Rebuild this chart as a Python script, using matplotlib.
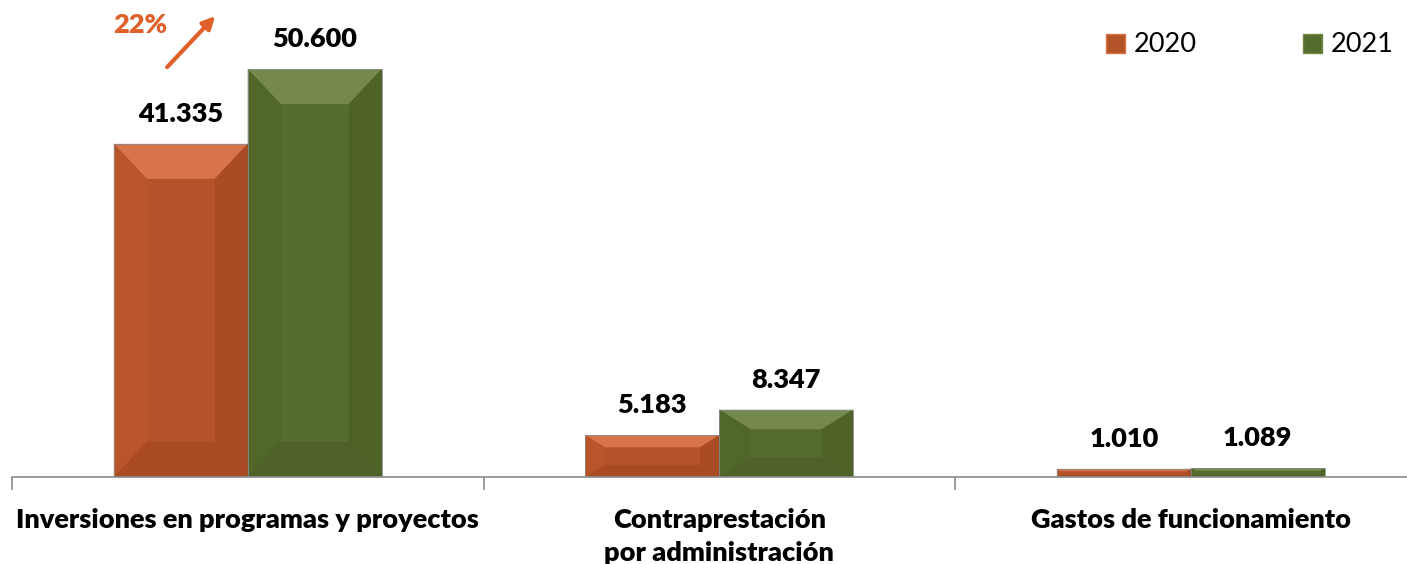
import matplotlib.pyplot as plt
from matplotlib.patches import Polygon, Patch
import numpy as np

categories = ['Inversiones en programas y proyectos',
              'Contraprestación\npor administración',
              'Gastos de funcionamiento']
years = ['2020', '2021']
vals_2020 = [41335, 5183, 1010]
vals_2021 = [50600, 8347, 1089]
labels_2020 = ['41.335', '5.183', '1.010']
labels_2021 = ['50.600', '8.347', '1.089']
growth_label = '22%'

# colours: base, top bevel, left, right, bottom
orange = ['#B4532A', '#D8744A', '#B85629', '#A94C25', '#A84A24']
green = ['#566C2D', '#75894A', '#51672A', '#4F6329', '#4D6128']

plt.rcParams['font.family'] = ['Lato', 'DejaVu Sans']
FS = 19.5

W, H = 1407, 564
fig = plt.figure(figsize=(W / 100, H / 100), dpi=100)
ax_w_px = 1414.5
ax_h_px = 472
ax = fig.add_axes([12 / W, 87 / H, ax_w_px / W, ax_h_px / H])
ax.set_xlim(-0.5, 2.5)
ax.set_ylim(0, 58560)

px_x = 3 / ax_w_px
px_y = 58560 / ax_h_px


def bevel_bar(left, width, h, c):
    right = left + width
    h_px = h / px_y
    by_px = min(35, 0.29 * h_px)
    bx_px = min(33, 1.6 * by_px)
    bx, by = bx_px * px_x, by_px * px_y
    polys = [
        ([(left, 0), (right, 0), (right, h), (left, h)], c[0]),
        ([(left, h), (right, h), (right - bx, h - by), (left + bx, h - by)], c[1]),
        ([(left, h), (left + bx, h - by), (left + bx, by), (left, 0)], c[2]),
        ([(right, h), (right - bx, h - by), (right - bx, by), (right, 0)], c[3]),
        ([(left, 0), (left + bx, by), (right - bx, by), (right, 0)], c[4]),
    ]
    for pts, col in polys:
        ax.add_patch(Polygon(pts, closed=True, facecolor=col, edgecolor='none'))
    ax.add_patch(Polygon([(left, 0), (right, 0), (right, h), (left, h)], closed=True,
                         facecolor='none', edgecolor='#8a8a8a', linewidth=0.6))


bw = 0.284
x = np.arange(len(categories))
for i in range(len(categories)):
    bevel_bar(x[i] - bw, bw, vals_2020[i], orange)
    bevel_bar(x[i], bw, vals_2021[i], green)
    ax.annotate(labels_2020[i], (x[i] - bw / 2, vals_2020[i]), xytext=(0, 30),
                textcoords='offset pixels', ha='center', va='center',
                fontsize=FS, fontweight='heavy', color='black')
    ax.annotate(labels_2021[i], (x[i] + bw / 2, vals_2021[i]), xytext=(0, 30),
                textcoords='offset pixels', ha='center', va='center',
                fontsize=FS, fontweight='heavy', color='black')

# growth arrow and label
ax.annotate('', xy=(x[0] - 0.065, vals_2021[0] * 1.135), xytext=(x[0] - 0.175, vals_2021[0] * 1.0),
            arrowprops=dict(arrowstyle='-|>', color='#E0602B', lw=3, mutation_scale=18))
ax.text(x[0] - 0.228, vals_2021[0] * 1.108, growth_label, color='#E0602B',
        fontsize=FS, fontweight='heavy', ha='center', va='center')

for s in ['top', 'right', 'left']:
    ax.spines[s].set_visible(False)
ax.spines['bottom'].set_color('#8c8c8c')
ax.spines['bottom'].set_linewidth(1.2)
ax.set_yticks([])
ax.set_xticks(x)
ax.set_xticklabels(categories, fontsize=FS, fontweight='heavy', linespacing=1.45)
ax.tick_params(axis='x', which='major', length=0, pad=22)
ax.set_xticks([-0.5, 0.5, 1.5], minor=True)
ax.tick_params(axis='x', which='minor', length=9, width=1.2, color='#8c8c8c')

handles = [Patch(facecolor=orange[0], edgecolor=orange[1], linewidth=1),
           Patch(facecolor=green[0], edgecolor=green[1], linewidth=1)]
fig.legend(handles, years, loc='center right', bbox_to_anchor=(1394 / W, 1 - 45 / H),
           ncol=2, frameon=False, fontsize=FS, handlelength=0.7, handleheight=0.7,
           handletextpad=0.35, columnspacing=3.9, borderaxespad=0, borderpad=0)

fig.savefig('out.png', dpi=100)
